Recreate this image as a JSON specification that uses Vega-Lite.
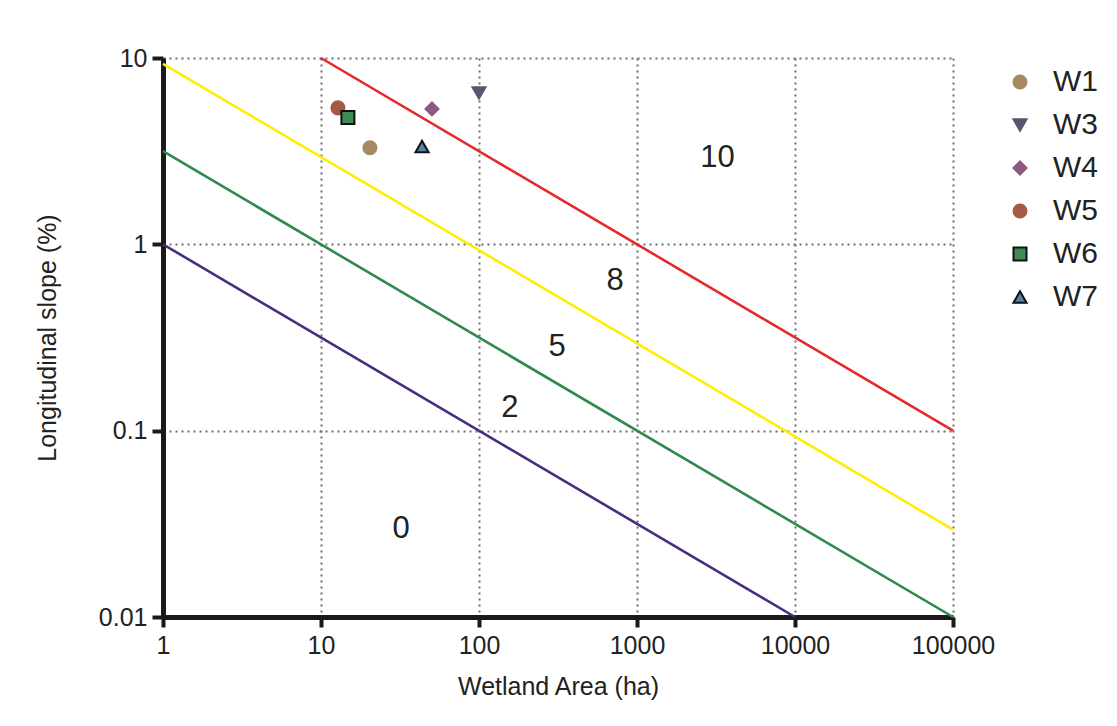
{
  "$schema": "https://vega.github.io/schema/vega-lite/v6.json",
  "width": 790,
  "height": 559,
  "autosize": "none",
  "padding": {"left": 163, "top": 58, "right": 164, "bottom": 109},
  "background": "white",
  "config": {
    "font": "Liberation Sans",
    "view": {"stroke": null},
    "axis": {"labelColor": "#222", "titleColor": "#222", "labelFont": "Liberation Sans", "titleFont": "Liberation Sans"}
  },
  "datasets": {
    "lines": [
      {"line": "purple", "area": 1, "slope": 1},
      {"line": "purple", "area": 10000, "slope": 0.01},
      {"line": "green", "area": 1, "slope": 3.16},
      {"line": "green", "area": 100000, "slope": 0.01},
      {"line": "yellow", "area": 1, "slope": 9.3},
      {"line": "yellow", "area": 100000, "slope": 0.0294},
      {"line": "red", "area": 10, "slope": 10},
      {"line": "red", "area": 100000, "slope": 0.1}
    ],
    "sites": [
      {"site": "W1", "area": 20.4, "slope": 3.3},
      {"site": "W3", "area": 100, "slope": 6.5},
      {"site": "W4", "area": 50.4, "slope": 5.33},
      {"site": "W5", "area": 12.8, "slope": 5.4},
      {"site": "W6", "area": 14.8, "slope": 4.8},
      {"site": "W7", "area": 43.6, "slope": 3.35}
    ],
    "zones": [
      {"label": "10", "area": 3230, "slope": 2.92},
      {"label": "8", "area": 726, "slope": 0.632},
      {"label": "5", "area": 312, "slope": 0.281},
      {"label": "2", "area": 157, "slope": 0.133},
      {"label": "0", "area": 32.1, "slope": 0.0297}
    ]
  },
  "layer": [
    {
      "data": {"name": "lines"},
      "mark": {"type": "line", "strokeWidth": 2.6, "clip": false},
      "encoding": {
        "x": {
          "field": "area", "type": "quantitative",
          "scale": {"type": "log", "domain": [1, 100000], "nice": false},
          "axis": {
            "values": [1, 10, 100, 1000, 10000, 100000],
            "format": "d",
            "title": "Wetland Area (ha)",
            "titleFontSize": 25, "titleFontWeight": "normal", "titlePadding": 16,
            "labelFontSize": 25, "labelPadding": 6, "labelFlush": false, "labelOverlap": false,
            "domainColor": "#1a1a1a", "domainWidth": 5,
            "tickColor": "#1a1a1a", "tickWidth": 4, "tickSize": 10,
            "grid": true, "gridColor": "#6e6e6e", "gridDash": [2, 4], "gridWidth": 2
          }
        },
        "y": {
          "field": "slope", "type": "quantitative",
          "scale": {"type": "log", "domain": [0.01, 10], "nice": false},
          "axis": {
            "values": [0.01, 0.1, 1, 10],
            "format": "~g",
            "title": "Longitudinal slope (%)",
            "titleFontSize": 25, "titleFontWeight": "normal", "titlePadding": 38,
            "labelFontSize": 25, "labelPadding": 5, "labelFlush": false, "labelOverlap": false,
            "domainColor": "#1a1a1a", "domainWidth": 5,
            "tickColor": "#1a1a1a", "tickWidth": 4, "tickSize": 11,
            "grid": true, "gridColor": "#6e6e6e", "gridDash": [2, 4], "gridWidth": 2
          }
        },
        "detail": {"field": "line"},
        "color": {
          "field": "line", "type": "nominal",
          "scale": {"domain": ["purple", "green", "yellow", "red"], "range": ["#4a2c80", "#2e8a4e", "#ffee00", "#e62a2a"]},
          "legend": null
        }
      }
    },
    {
      "data": {"name": "zones"},
      "mark": {"type": "text", "fontSize": 31, "color": "#222", "align": "center", "baseline": "middle"},
      "encoding": {
        "x": {"field": "area", "type": "quantitative"},
        "y": {"field": "slope", "type": "quantitative"},
        "text": {"field": "label"}
      }
    },
    {
      "data": {"name": "sites"},
      "mark": {"type": "point", "filled": true, "size": 170, "strokeWidth": 2, "opacity": 1},
      "encoding": {
        "x": {"field": "area", "type": "quantitative"},
        "y": {"field": "slope", "type": "quantitative"},
        "fill": {
          "field": "site", "type": "nominal",
          "scale": {"domain": ["W1", "W3", "W4", "W5", "W6", "W7"], "range": ["#a58a62", "#5d5472", "#8c5a7e", "#a55a46", "#3d8b52", "#4d86a6"]},
          "legend": {
            "title": null, "orient": "none", "legendX": 842, "legendY": 9,
            "labelFontSize": 30, "labelColor": "#222", "labelFont": "Liberation Sans",
            "labelOffset": 18, "rowPadding": 13, "symbolSize": 170, "symbolStrokeWidth": 2, "padding": 0
          }
        },
        "stroke": {
          "field": "site", "type": "nominal",
          "scale": {"domain": ["W1", "W3", "W4", "W5", "W6", "W7"], "range": ["#a58a62", "#5d5472", "#8c5a7e", "#a55a46", "#111111", "#111111"]}
        },
        "shape": {
          "field": "site", "type": "nominal",
          "scale": {"domain": ["W1", "W3", "W4", "W5", "W6", "W7"], "range": ["circle", "triangle-down", "diamond", "circle", "square", "triangle-up"]}
        }
      }
    }
  ]
}
